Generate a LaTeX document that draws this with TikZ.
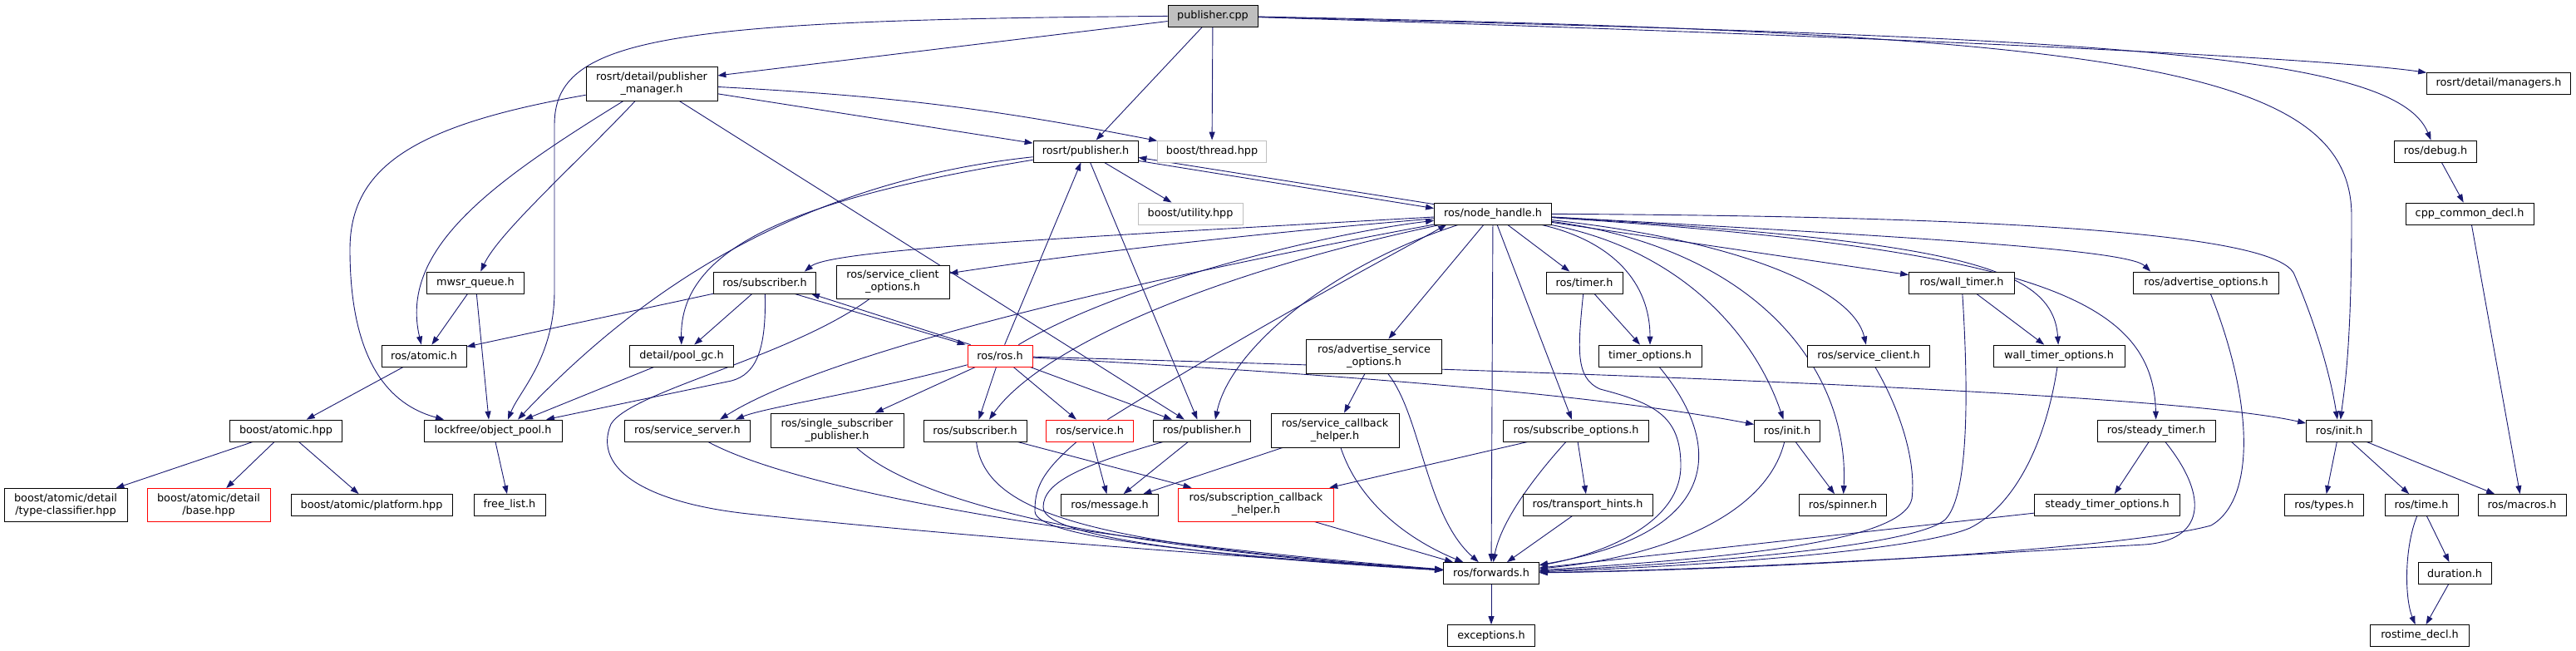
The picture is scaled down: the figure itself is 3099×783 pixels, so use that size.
\documentclass[tikz,border=0pt]{standalone}
\usepackage{fontspec}
\setmainfont{DejaVu Sans}
\usetikzlibrary{arrows.meta,backgrounds}
\definecolor{edgeblue}{HTML}{191970}
\definecolor{rootgray}{HTML}{BFBFBF}
\begin{document}
\begin{tikzpicture}[x=1pt,y=-1pt,
  hfile/.style={draw=black,fill=white,line width=0.8pt,minimum height=26pt,inner sep=0pt,align=center,font=\fontsize{12.8}{15}\selectfont},
  root/.style={hfile,fill=rootgray},
  ext/.style={hfile,draw=rootgray},
  miss/.style={hfile,draw=red},
  dep/.style={draw=edgeblue,line width=0.9pt,-{Triangle[length=10pt,width=7pt]}}]
%\draw[step=100,gray,very thin] (0,0) grid (3099,783);
\useasboundingbox (0,0) rectangle (3099,783);

\node[root,minimum width=108pt] (pubcpp) at (1459,19) {publisher.cpp};

\node[hfile,minimum width=158pt,minimum height=41pt] (pubmgr) at (784,100.5) {rosrt/detail/publisher\\\_manager.h};
\node[hfile,minimum width=173pt] (managers) at (3006,100) {rosrt/detail/managers.h};

\node[hfile,minimum width=126pt] (rtpub)  at (1306,182) {rosrt/publisher.h};
\node[ext,minimum width=131pt]   (thread) at (1458,182) {boost/thread.hpp};
\node[hfile,minimum width=99pt]  (debug)  at (2930,182) {ros/debug.h};

\node[ext,minimum width=126pt]   (utility)    at (1432,257) {boost/utility.hpp};
\node[hfile,minimum width=141pt] (nodehandle) at (1796,257) {ros/node\_handle.h};
\node[hfile,minimum width=154pt] (cppdecl)    at (2971,257) {cpp\_common\_decl.h};

\node[hfile,minimum width=117pt] (mwsr)      at (572,340)  {mwsr\_queue.h};
\node[hfile,minimum width=123pt] (subup)     at (920,340)  {ros/subscriber.h};
\node[hfile,minimum width=136pt,minimum height=40pt] (scopts) at (1074,339) {ros/service\_client\\\_options.h};
\node[hfile,minimum width=92pt]  (timer)     at (1906,340) {ros/timer.h};
\node[hfile,minimum width=127pt] (walltimer) at (2360,340) {ros/wall\_timer.h};
\node[hfile,minimum width=175pt] (advopts)   at (2654,340) {ros/advertise\_options.h};

\node[hfile,minimum width=102pt] (atomic)    at (510,428)  {ros/atomic.h};
\node[hfile,minimum width=125pt] (poolgc)    at (820,428)  {detail/pool\_gc.h};
\node[miss,minimum width=78pt]   (rosh)      at (1203,428) {ros/ros.h};
\node[hfile,minimum width=163pt,minimum height=41pt] (advsrv) at (1653,428.5) {ros/advertise\_service\\\_options.h};
\node[hfile,minimum width=124pt] (timeropts) at (1985,428) {timer\_options.h};
\node[hfile,minimum width=147pt] (srvclient) at (2248,428) {ros/service\_client.h};
\node[hfile,minimum width=158pt] (walltopts) at (2477,428) {wall\_timer\_options.h};

\node[hfile,minimum width=135pt] (batomic)   at (344,518)  {boost/atomic.hpp};
\node[hfile,minimum width=166pt] (objpool)   at (593,518)  {lockfree/object\_pool.h};
\node[hfile,minimum width=151pt] (srvserver) at (827,518)  {ros/service\_server.h};
\node[hfile,minimum width=160pt,minimum height=41pt] (sspub) at (1007,517.5) {ros/single\_subscriber\\\_publisher.h};
\node[hfile,minimum width=124pt] (sublo)     at (1173,518) {ros/subscriber.h};
\node[miss,minimum width=105pt]  (service)   at (1311,518) {ros/service.h};
\node[hfile,minimum width=117pt] (pubh)      at (1446,518) {ros/publisher.h};
\node[hfile,minimum width=154pt,minimum height=41pt] (srvcb) at (1606,517.5) {ros/service\_callback\\\_helper.h};
\node[hfile,minimum width=175pt] (subopts)   at (1896,518) {ros/subscribe\_options.h};
\node[hfile,minimum width=79pt]  (initmid)   at (2150,518) {ros/init.h};
\node[hfile,minimum width=142pt] (steady)    at (2594,518) {ros/steady\_timer.h};
\node[hfile,minimum width=79pt]  (initr)     at (2814,518) {ros/init.h};

\node[hfile,minimum width=148pt,minimum height=40pt] (typecls) at (79,607.5) {boost/atomic/detail\\/type-classifier.hpp};
\node[miss,minimum width=148pt,minimum height=40pt]  (base)    at (251,607.5) {boost/atomic/detail\\/base.hpp};
\node[hfile,minimum width=194pt] (platform)  at (447,607.5)  {boost/atomic/platform.hpp};
\node[hfile,minimum width=86pt]  (freelist)  at (613,607.5)  {free\_list.h};
\node[hfile,minimum width=117pt] (message)   at (1335,607.5) {ros/message.h};
\node[miss,minimum width=187pt,minimum height=40pt] (subcb) at (1511,607) {ros/subscription\_callback\\\_helper.h};
\node[hfile,minimum width=156pt] (transport) at (1910,607.5) {ros/transport\_hints.h};
\node[hfile,minimum width=105pt] (spinner)   at (2217,607.5) {ros/spinner.h};
\node[hfile,minimum width=175pt] (steadyopts) at (2535,607.5) {steady\_timer\_options.h};
\node[hfile,minimum width=95pt]  (types)     at (2796,607.5) {ros/types.h};
\node[hfile,minimum width=88pt]  (time)      at (2913,607.5) {ros/time.h};
\node[hfile,minimum width=106pt] (macros)    at (3034,607.5) {ros/macros.h};

\node[hfile,minimum width=115pt] (forwards)  at (1794,689.5) {ros/forwards.h};
\node[hfile,minimum width=88pt]  (duration)  at (2953,689.5) {duration.h};

\node[hfile,minimum width=105pt] (exceptions) at (1794,764.5) {exceptions.h};
\node[hfile,minimum width=119pt] (rostime)    at (2911,764.5) {rostime\_decl.h};

\begin{scope}[on background layer]
% publisher.cpp
\draw[dep] (pubcpp) -- (pubmgr);
\draw[dep] (pubcpp) .. controls (800,24) and (667,45) .. (667,150) -- (667,350) .. controls (667,430) and (625,470) .. ([xshift=18pt]objpool.north);
\draw[dep] (pubcpp) -- (rtpub);
\draw[dep] (pubcpp) -- (thread);
\draw[dep] (pubcpp) .. controls (2300,45) and (2800,70) .. (managers);
\draw[dep] (pubcpp) .. controls (2500,45) and (2880,60) .. (debug);
\draw[dep] (pubcpp) .. controls (2550,40) and (2829,80) .. (2829,260) .. controls (2829,420) and (2820,470) .. (initr);
% publisher_manager.h
\draw[dep] (pubmgr) -- (rtpub);
\draw[dep] (pubmgr) to[bend left=4] (thread);
\draw[dep] (pubmgr) .. controls (590,220) and (480,300) .. (atomic);
\draw[dep] (pubmgr) .. controls (690,200) and (600,280) .. (mwsr);
\draw[dep] (pubmgr) .. controls (500,150) and (421,200) .. (421,300) .. controls (421,450) and (480,490) .. ([xshift=-59pt]objpool.north);
\draw[dep] (pubmgr) -- (pubh);
% rosrt/publisher.h
\draw[dep] (rtpub) -- (utility);
\draw[dep] ([yshift=2pt]rtpub.south east) -- ([yshift=-7pt]nodehandle.north west);
\draw[dep] (rtpub) .. controls (950,220) and (760,360) .. ([xshift=30pt]objpool.north);
\draw[dep] (rtpub) .. controls (950,240) and (818,300) .. (poolgc);
\draw[dep] (rtpub) -- (pubh);
% node_handle.h
\draw[dep] ([yshift=-2pt]nodehandle.north west) -- ([yshift=6pt]rtpub.south east);
\draw[dep] (nodehandle) .. controls (1300,285) and (1000,300) .. ([xshift=-14pt]subup.north east);
\draw[dep] (nodehandle) .. controls (1400,290) and (1200,320) .. (scopts);
\draw[dep] (nodehandle) .. controls (1400,330) and (1000,420) .. ([xshift=39pt]srvserver.north);
\draw[dep] (nodehandle) .. controls (1450,330) and (1250,420) .. ([xshift=17pt]sublo.north);
\draw[dep] (nodehandle) .. controls (1600,320) and (1480,420) .. ([xshift=16pt]pubh.north);
\draw[dep] (nodehandle) -- (advsrv);
\draw[dep] (nodehandle) -- (forwards);
\draw[dep] (nodehandle) -- (subopts);
\draw[dep] (nodehandle) -- (timer);
\draw[dep] (nodehandle) .. controls (1940,290) and (1985,340) .. (timeropts);
\draw[dep] (nodehandle) .. controls (2020,300) and (2110,400) .. (initmid);
\draw[dep] (nodehandle) .. controls (2120,300) and (2225,450) .. (spinner);
\draw[dep] (nodehandle) .. controls (2100,290) and (2230,350) .. (srvclient);
\draw[dep] (nodehandle) -- (walltimer);
\draw[dep] (nodehandle) .. controls (2350,290) and (2470,320) .. (walltopts);
\draw[dep] (nodehandle) .. controls (2450,300) and (2590,360) .. (steady);
\draw[dep] (nodehandle) .. controls (2300,285) and (2560,300) .. ([xshift=21pt]advopts.north west);
\draw[dep] (nodehandle) .. controls (2400,260) and (2740,280) .. (2760,330) .. controls (2790,400) and (2805,460) .. (initr);
% ros.h
\draw[dep] (rosh) -- (rtpub);
\draw[dep] (rosh) .. controls (1350,340) and (1600,280) .. (nodehandle);
\draw[dep] ([xshift=4pt]rosh.north west) -- ([xshift=-6pt]subup.south east);
\draw[dep] ([xshift=-26pt]subup.south east) -- ([xshift=-2pt]rosh.north west);
\draw[dep] (rosh) .. controls (1050,470) and (920,490) .. ([xshift=58pt]srvserver.north);
\draw[dep] (rosh) -- (sspub);
\draw[dep] (rosh) -- (sublo);
\draw[dep] (rosh) -- (service);
\draw[dep] (rosh) -- (pubh);
\draw[dep] (rosh) .. controls (1700,455) and (1950,480) .. (initmid);
\draw[dep] (rosh) .. controls (1800,445) and (2600,470) .. (initr);
% service.h
\draw[dep] (service) .. controls (1500,400) and (1650,320) .. ([xshift=15pt]nodehandle.south west);
\draw[dep] (service) -- (message);
\draw[dep] (service) .. controls (1250,570) and (1245,590) .. (1245,615) .. controls (1245,650) and (1500,670) .. (forwards);
% lockfree side
\draw[dep] (subup) -- (atomic);
\draw[dep] (subup) -- (poolgc);
\draw[dep] (subup) .. controls (922,420) and (910,450) .. (880,458) -- ([xshift=64pt]objpool.north);
\draw[dep] (mwsr) -- (atomic);
\draw[dep] (mwsr) -- ([xshift=-5pt]objpool.north);
\draw[dep] (poolgc) -- ([xshift=38pt]objpool.north);
\draw[dep] (atomic) -- (batomic);
\draw[dep] (batomic) -- (typecls);
\draw[dep] (batomic) -- (base);
\draw[dep] (batomic) -- (platform);
\draw[dep] (objpool) -- (freelist);
% into forwards.h
\draw[dep] (scopts) .. controls (950,430) and (760,470) .. (735,510) .. controls (712,565) and (780,605) .. (900,618) .. controls (1150,645) and (1500,670) .. (forwards);
\draw[dep] (srvserver) .. controls (960,590) and (1300,650) .. (forwards);
\draw[dep] (sspub) .. controls (1110,610) and (1350,660) .. (forwards);
\draw[dep] (sublo) .. controls (1185,620) and (1320,655) .. (forwards);
\draw[dep] (sublo) -- (subcb);
\draw[dep] (pubh) -- (message);
\draw[dep] (pubh) .. controls (1300,560) and (1255,580) .. (1255,610) .. controls (1255,650) and (1500,672) .. (forwards);
\draw[dep] (srvcb) -- (message);
\draw[dep] (srvcb) .. controls (1640,620) and (1720,660) .. (forwards);
\draw[dep] (subcb) -- (forwards);
\draw[dep] (advsrv) -- (srvcb);
\draw[dep] (advsrv) .. controls (1710,500) and (1715,620) .. (forwards);
\draw[dep] (subopts) -- (subcb);
\draw[dep] (subopts) -- (transport);
\draw[dep] (subopts) .. controls (1840,580) and (1805,630) .. (forwards);
\draw[dep] (transport) -- (forwards);
\draw[dep] (timer) -- (timeropts);
\draw[dep] (timer) .. controls (1898,420) and (1895,455) .. (1925,468) .. controls (1990,485) and (2022,500) .. (2022,560) .. controls (2022,640) and (1900,672) .. (forwards);
\draw[dep] (timeropts) .. controls (2070,530) and (2080,640) .. (forwards);
\draw[dep] (initmid) -- (spinner);
\draw[dep] (initmid) .. controls (2125,620) and (2000,670) .. (forwards);
\draw[dep] (srvclient) .. controls (2290,500) and (2305,560) .. (2300,600) .. controls (2290,650) and (2100,670) .. (forwards);
\draw[dep] (walltimer) -- (walltopts);
\draw[dep] (walltimer) .. controls (2370,500) and (2365,600) .. (2340,625) .. controls (2300,660) and (2000,680) .. (forwards);
\draw[dep] (walltopts) .. controls (2460,540) and (2420,610) .. (2370,635) .. controls (2300,665) and (2000,683) .. (forwards);
\draw[dep] (steady) -- (steadyopts);
\draw[dep] (steady) .. controls (2660,600) and (2650,650) .. (2580,655) .. controls (2400,665) and (2100,685) .. (forwards);
\draw[dep] (steadyopts) -- (forwards);
\draw[dep] (advopts) .. controls (2710,480) and (2715,600) .. (2660,632) .. controls (2550,662) and (2100,686) .. (forwards);
\draw[dep] (forwards) -- (exceptions);
% init.h, time
\draw[dep] (initr) -- (types);
\draw[dep] (initr) -- (time);
\draw[dep] (initr) -- (macros);
\draw[dep] (time) -- (duration);
\draw[dep] (time) .. controls (2892,660) and (2893,720) .. (rostime);
\draw[dep] (duration) -- (rostime);
\draw[dep] (debug) -- (cppdecl);
\draw[dep] (cppdecl) -- (macros);
\end{scope}
\end{tikzpicture}
\end{document}
